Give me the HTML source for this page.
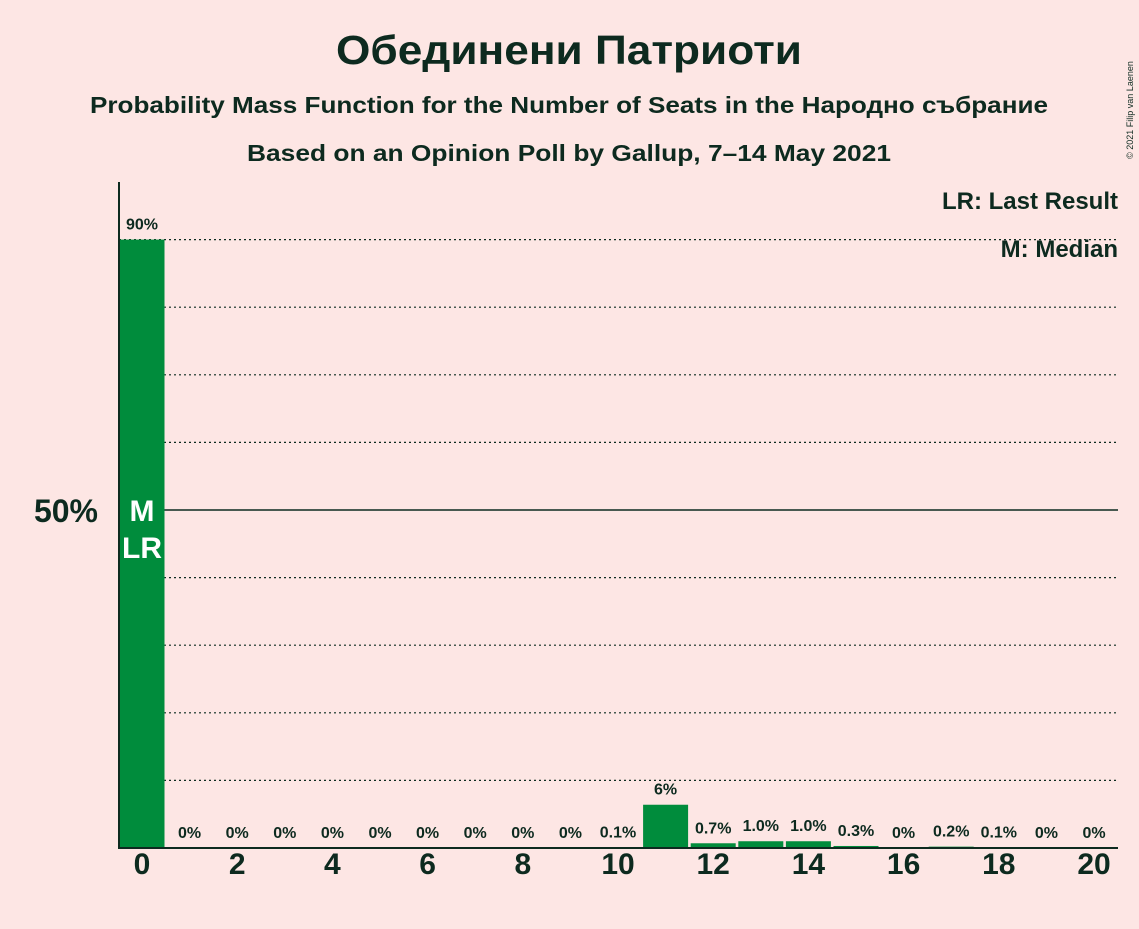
<!DOCTYPE html>
<html><head><meta charset="utf-8"><style>
body{margin:0;background:#fde6e4;}
svg text{font-family:"Liberation Sans",sans-serif;fill:#0d2a1f;font-weight:bold;}
</style></head><body>
<svg id="chart" width="1139" height="924" xmlns="http://www.w3.org/2000/svg">
<rect width="1139" height="924" fill="#fde6e4"/>
<text x="569" y="64" font-size="41" text-anchor="middle" textLength="466" lengthAdjust="spacingAndGlyphs">Обединени Патриоти</text>
<text x="569" y="113" font-size="23" text-anchor="middle" textLength="958" lengthAdjust="spacingAndGlyphs">Probability Mass Function for the Number of Seats in the Народно събрание</text>
<text x="569" y="161" font-size="23" text-anchor="middle" textLength="644" lengthAdjust="spacingAndGlyphs">Based on an Opinion Poll by Gallup, 7–14 May 2021</text>
<text x="1133" y="110" font-size="9" transform="rotate(-90 1133 110)" text-anchor="middle" style="font-weight:normal">© 2021 Filip van Laenen</text>
<text x="1118" y="209" font-size="24" text-anchor="end">LR: Last Result</text>
<text x="1118" y="257" font-size="24" text-anchor="end">M: Median</text>
<g id="grid"></g><g id="bars"></g><g id="labels"></g><g id="ticks"></g>
<line x1="119" y1="182" x2="119" y2="848" stroke="#0d2a1f" stroke-width="2"/>
<line x1="118" y1="848" x2="1118" y2="848" stroke="#0d2a1f" stroke-width="2"/>
<text x="98" y="522" font-size="32" text-anchor="end">50%</text>
</svg>
<script>
const seats=[0,1,2,3,4,5,6,7,8,9,10,11,12,13,14,15,16,17,18,19,20];
const probs=[90,0,0,0,0,0,0,0,0,0,0.1,6.4,0.7,1.0,1.0,0.3,0,0.2,0.1,0,0];
const valueLabels=["90%","0%","0%","0%","0%","0%","0%","0%","0%","0%","0.1%","6%","0.7%","1.0%","1.0%","0.3%","0%","0.2%","0.1%","0%","0%"];
const gridValues=[10,20,30,40,50,60,70,80,90];
const xTicks=[0,2,4,6,8,10,12,14,16,18,20];
const ns="http://www.w3.org/2000/svg";
const y=v=>848-v*6.76;
const x=s=>142+s*47.6;
function mk(t,a,p){const e=document.createElementNS(ns,t);for(const k in a)e.setAttribute(k,a[k]);document.getElementById(p).appendChild(e);return e;}
gridValues.forEach(g=>{
 const l=mk('line',{x1:119,x2:1118,y1:y(g),y2:y(g),stroke:'#0d2a1f','stroke-width':g===50?1.5:1.2,'stroke-dasharray':g===50?'':'2,3'},'grid');
 
 
});
seats.forEach((s,i)=>{
 const r=mk('rect',{x:x(s)-22.5,y:y(probs[i]),width:45,height:848-y(probs[i]),fill:'#008c3c'},'bars');
 
 
 const ly=Math.min(y(probs[i])-10,838);
 const t=mk('text',{x:x(s),y:ly,'font-size':16,'text-anchor':'middle'},'labels');
 t.textContent=valueLabels[i];
 
 
});
xTicks.forEach(s=>{
 const t=mk('text',{x:x(s),y:874,'font-size':30,'text-anchor':'middle'},'ticks');
 t.textContent=s;
 
 
});
const m=mk('text',{x:x(0),y:521,'font-size':30,'text-anchor':'middle',style:'fill:#fff'},'labels');
m.textContent='M';


const lr=mk('text',{x:x(0),y:558,'font-size':30,'text-anchor':'middle',style:'fill:#fff'},'labels');
lr.textContent='LR';


</script>
</body></html>
